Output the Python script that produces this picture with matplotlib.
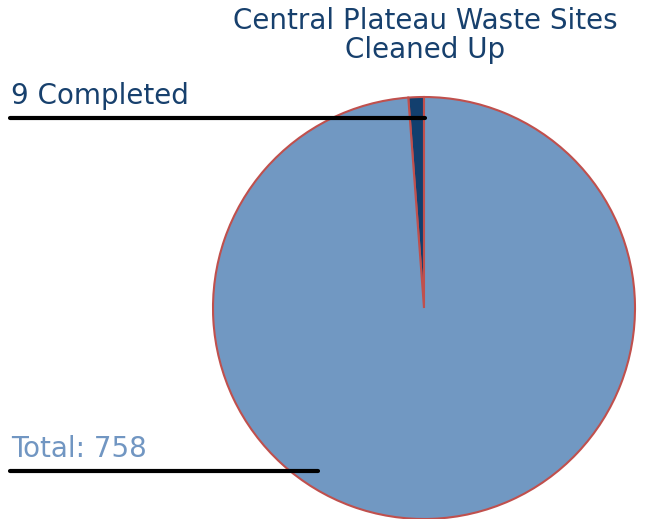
import matplotlib.pyplot as plt

# data
labels = ['Completed', 'Remaining']
values = [9, 749]
total = sum(values)
colors = ['#123f6e', '#7198c2']

W, H = 648, 519
fig = plt.figure(figsize=(W / 100, H / 100), dpi=100)
ax = fig.add_axes([0, 0, 1, 1])

# pie, centre and radius in pixel units
cx, cy, r = 424, H - 308, 211
ax.pie(values, colors=colors, startangle=90, counterclock=True,
       center=(cx, cy), radius=r, frame=True,
       wedgeprops=dict(edgecolor='#c0504d', linewidth=1.5))
ax.set_xlim(0, W)
ax.set_ylim(0, H)
ax.set_aspect('equal')
ax.axis('off')

# title
ax.text(425, H - 21, 'Central Plateau Waste Sites', ha='center', va='center',
        fontsize=20, color='#17406d')
ax.text(425, H - 50, 'Cleaned Up', ha='center', va='center',
        fontsize=20, color='#17406d')

# labels with leader lines
ax.text(11, H - 96, f'{values[0]} Completed', ha='left', va='center',
        fontsize=20, color='#17406d')
ax.plot([10, 425], [H - 118, H - 118], color='black', lw=3, solid_capstyle='round')

ax.text(11, H - 449, f'Total: {total}', ha='left', va='center',
        fontsize=20, color='#7196c2')
ax.plot([10, 318], [H - 471, H - 471], color='black', lw=3, solid_capstyle='round')

fig.savefig('out.png', dpi=100)
